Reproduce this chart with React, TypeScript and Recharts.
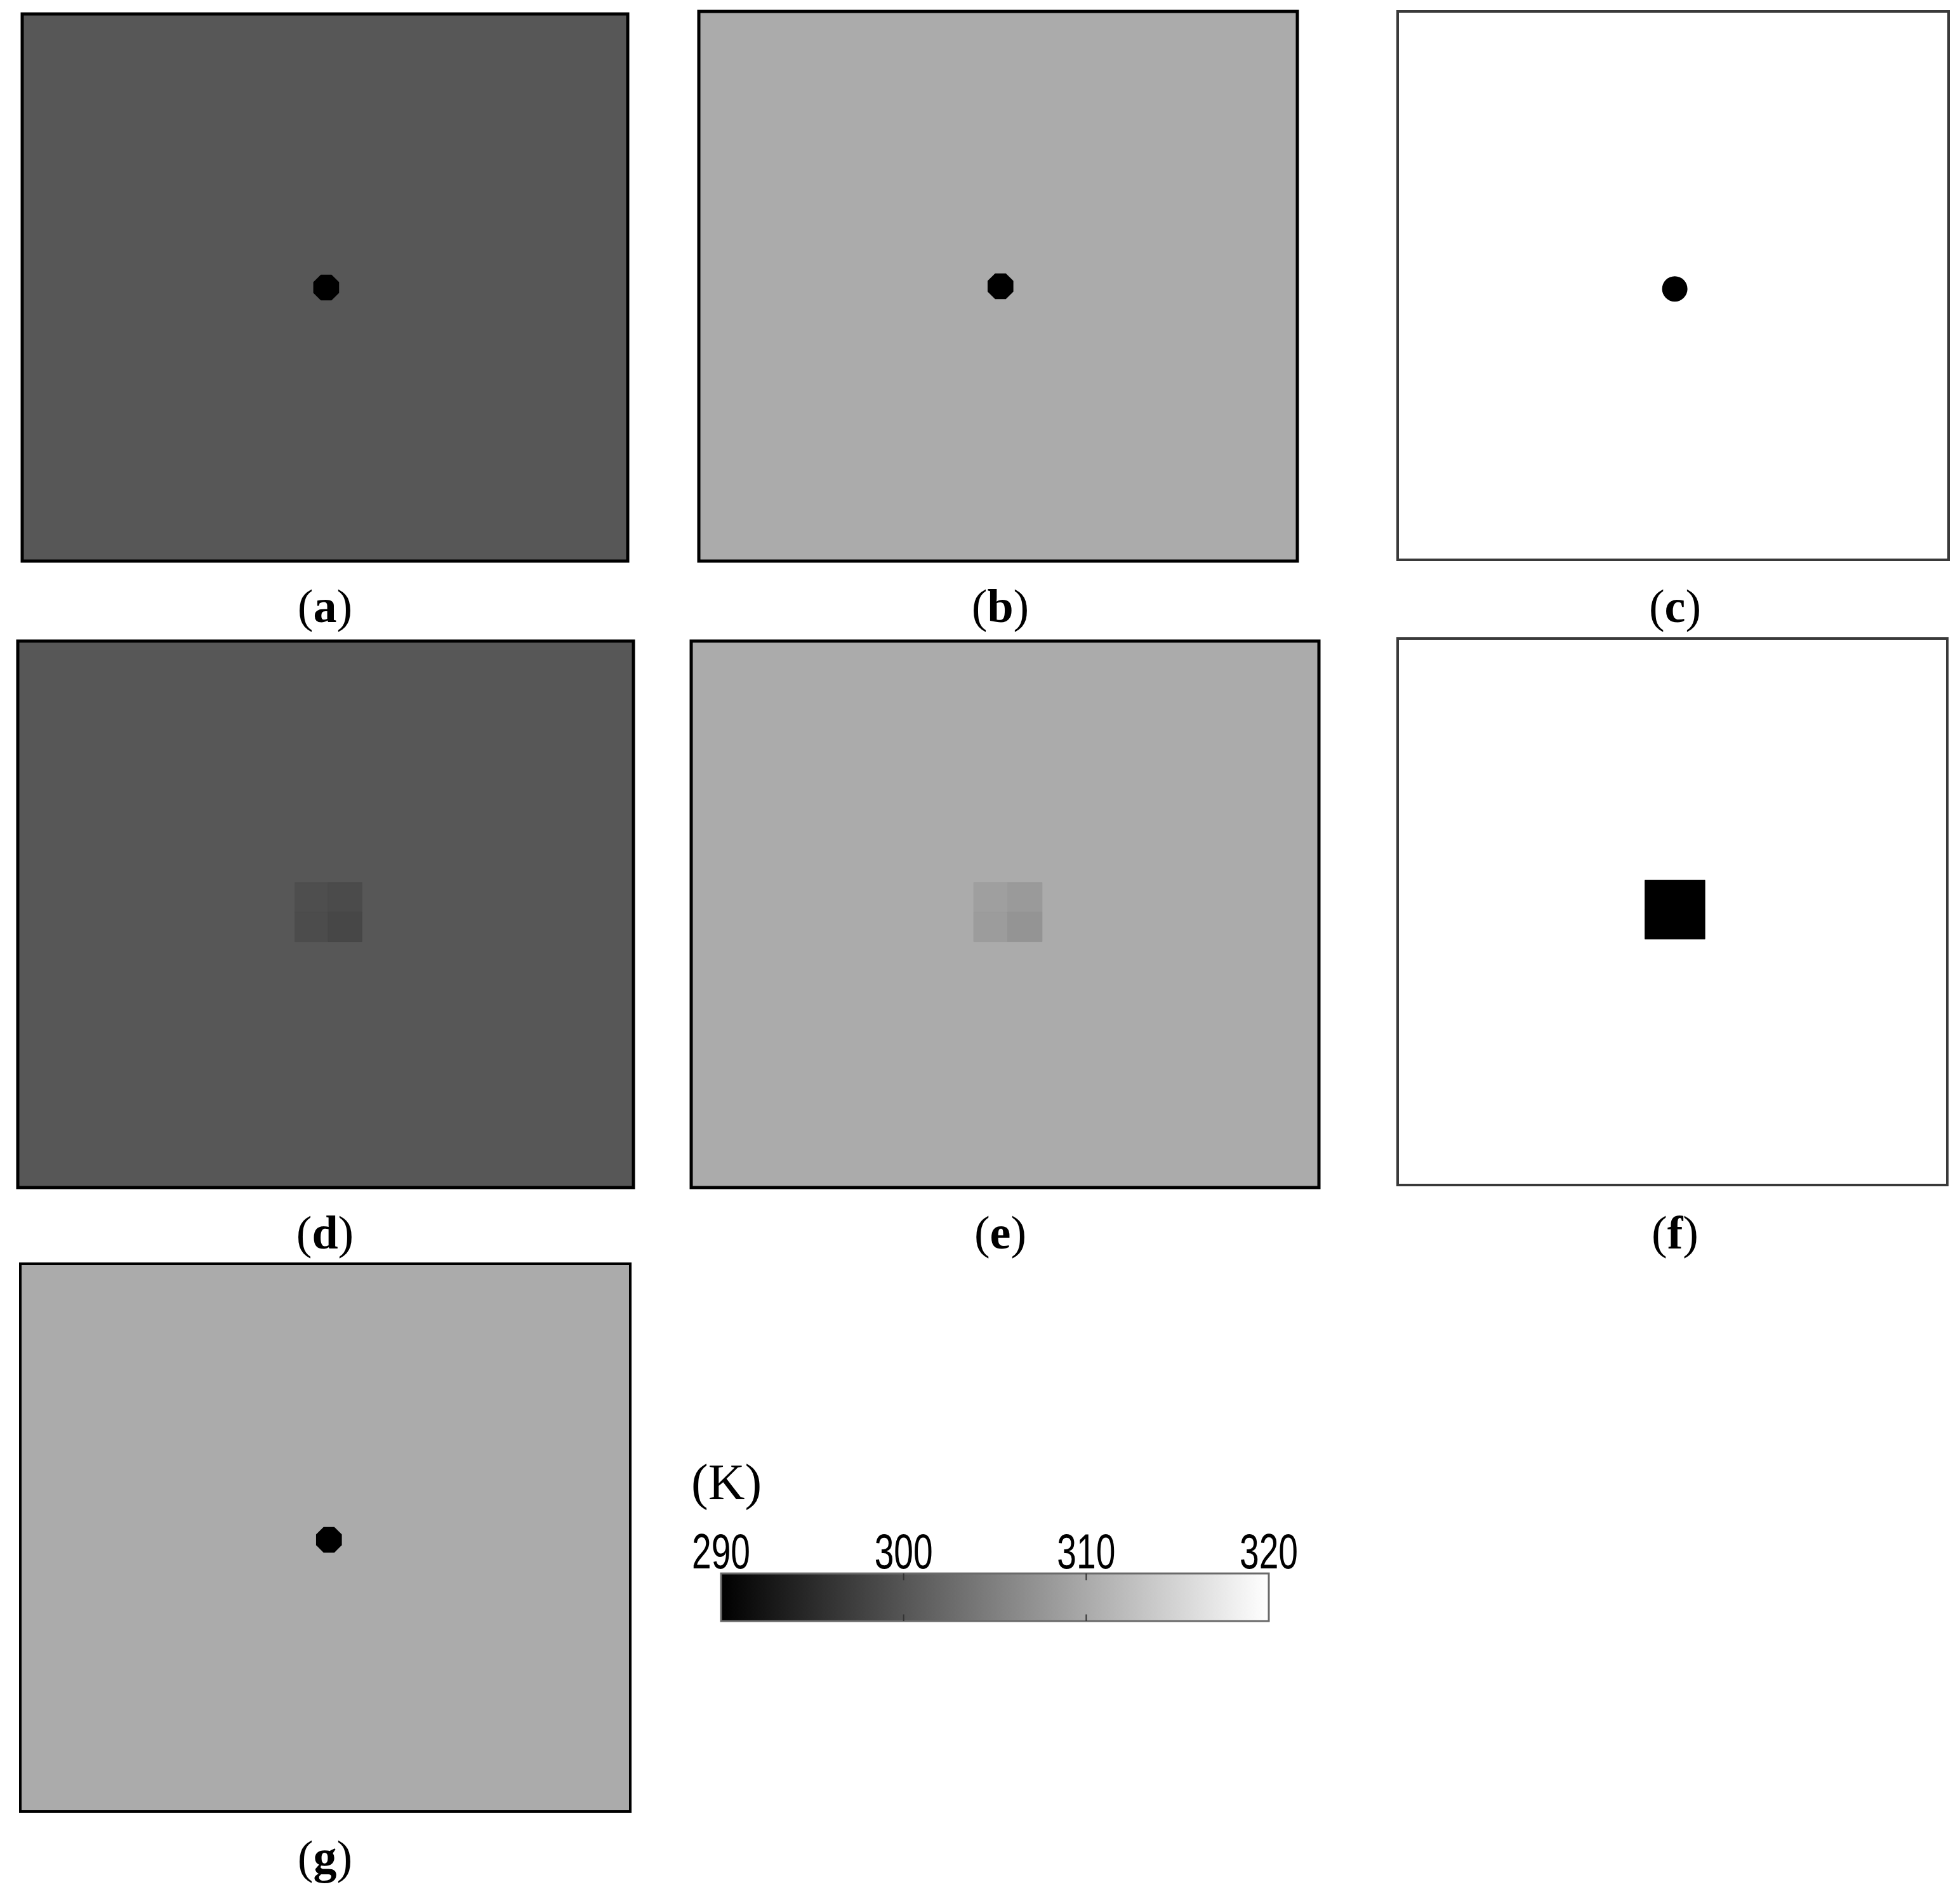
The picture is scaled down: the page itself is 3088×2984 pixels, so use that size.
import React from "react";
import {
  ComposedChart,
  XAxis,
  YAxis,
  Scatter,
  ReferenceArea,
  ReferenceLine,
} from "recharts";

// temperature fields, values in K, domain 0..100 across each plate
const panelIds = ["a", "b", "c", "d", "e", "f", "g"];
const backgroundTemps = [300.2, 310.1, 320, 300.2, 310.1, 320, 310.1];
const defectKinds = ["hole", "hole", "hole", "square", "square", "square", "hole"];
const holeTemp = 290;
const holeX = [50.2, 50.4, 50.3, 0, 0, 0, 50.6];
const holeY = [50.0, 50.0, 50.6, 0, 0, 0, 50.4];

// square defect: 2x2 cells, [top-left, top-right, bottom-left, bottom-right]
const squareCellTemps: Record<string, number[]> = {
  d: [299.2, 298.8, 298.9, 298.4],
  e: [308.7, 308.1, 308.4, 307.4],
  f: [290, 290, 290, 290],
};
const squareX = [45, 50.4, 55.9];
const squareY = [44.2, 49.6, 55.0];

// colour bar
const scaleMin = 290;
const scaleMax = 320;
const scaleTicks = [290, 300, 310, 320];
const scaleInnerTicks = [300, 310];
const unitLabel = "(K)";

function tempToGrey(t: number) {
  const v = Math.round(Math.max(0, Math.min(1, (t - scaleMin) / (scaleMax - scaleMin))) * 255);
  const h = v.toString(16).padStart(2, "0");
  return `#${h}${h}${h}`;
}

// frame of each plate on the page (left, top, width, height)
const frames: Record<string, number[]> = {
  a: [35, 22, 954, 862],
  b: [1101, 18, 943, 866],
  c: [2202, 18, 868, 864],
  d: [28, 1010, 970, 861],
  e: [1089, 1010, 989, 861],
  f: [2202, 1006, 866, 861],
  g: [32, 1991, 961, 863],
};
const borders: Record<string, [string, number]> = {
  a: ["#000", 5],
  b: ["#000", 5],
  c: ["#3a3a3a", 4],
  d: ["#000", 5],
  e: ["#000", 5],
  f: ["#3a3a3a", 4],
  g: ["#000", 4],
};

const M = 6;

function Octagon(props: any) {
  const { cx, cy, fill } = props;
  const r = 22;
  const pts: string[] = [];
  for (let i = 0; i < 8; i++) {
    const a = (Math.PI / 8) * (2 * i + 1);
    pts.push(`${cx + r * Math.cos(a)},${cy + r * Math.sin(a)}`);
  }
  return <polygon points={pts.join(" ")} fill={fill} />;
}

function RoundHole(props: any) {
  const { cx, cy, fill } = props;
  return <circle cx={cx} cy={cy} r={20} fill={fill} />;
}

function Plate({ index }: { index: number }) {
  const id = panelIds[index];
  const [left, top, w, h] = frames[id];
  const [stroke, sw] = borders[id];
  const cells = squareCellTemps[id];
  // the plate corners give the axes something to read
  const corners = [
    { x: 0, y: 0 },
    { x: 100, y: 100 },
  ];
  return (
    <div style={{ position: "absolute", left: left - M, top: top - M }}>
      <ComposedChart
        width={w + 2 * M}
        height={h + 2 * M}
        data={corners}
        margin={{ top: M, right: M, bottom: M, left: M }}
      >
        <XAxis type="number" dataKey="x" domain={[0, 100]} hide />
        <YAxis type="number" dataKey="y" domain={[0, 100]} reversed hide />
        <ReferenceArea
          x1={0}
          x2={100}
          y1={0}
          y2={100}
          fill={tempToGrey(backgroundTemps[index])}
          fillOpacity={1}
          stroke={stroke}
          strokeWidth={sw}
        />
        {defectKinds[index] === "square" &&
          cells.map((t, i) => (
            <ReferenceArea
              key={i}
              x1={squareX[i % 2]}
              x2={squareX[(i % 2) + 1]}
              y1={squareY[Math.floor(i / 2)]}
              y2={squareY[Math.floor(i / 2) + 1]}
              fill={tempToGrey(t)}
              fillOpacity={1}
              stroke={tempToGrey(t)}
              strokeWidth={1}
            />
          ))}
        {defectKinds[index] === "hole" && (
          <Scatter
            data={[{ x: holeX[index], y: holeY[index] }]}
            fill={tempToGrey(holeTemp)}
            shape={id === "c" ? RoundHole : Octagon}
            isAnimationActive={false}
          />
        )}
      </ComposedChart>
    </div>
  );
}

const labelCentres: Record<string, number[]> = {
  a: [512, 955],
  b: [1576, 955],
  c: [2639, 955],
  d: [512, 1942],
  e: [1576, 1942],
  f: [2639, 1942],
  g: [512, 2926],
};

function PanelLabel({ id }: { id: string }) {
  const [cx, cy] = labelCentres[id];
  return (
    <div
      style={{
        position: "absolute",
        left: cx - 100,
        top: cy - 40,
        width: 200,
        height: 80,
        lineHeight: "80px",
        textAlign: "center",
        fontFamily: "'Liberation Serif', serif",
        fontSize: 74,
        color: "#000",
      }}
    >
      (<b>{id}</b>)
    </div>
  );
}

function ScaleTick(props: any) {
  const { x, y, payload } = props;
  return (
    <text
      x={x}
      y={y}
      textAnchor="middle"
      fontFamily="'Liberation Sans Narrow', 'Liberation Sans', sans-serif"
      fontSize={78}
      textLength={92}
      lengthAdjust="spacingAndGlyphs"
      fill="#000"
    >
      {payload.value}
    </text>
  );
}

function ColourBar() {
  const padX = 110;
  const axisH = 110;
  const barW = 863;
  const barH = 75;
  const rows = scaleTicks.map((t) => ({ x: t, y: 0.5 }));
  return (
    <div style={{ position: "absolute", left: 1136 - padX, top: 2479 - axisH }}>
      <ComposedChart
        width={barW + 2 * padX}
        height={axisH + barH + 4}
        data={rows}
        margin={{ top: 0, right: padX, bottom: 4, left: padX }}
      >
        <defs>
          <linearGradient id="tempGrad" x1="0" y1="0" x2="1" y2="0">
            <stop offset="0%" stopColor={tempToGrey(scaleMin)} />
            <stop offset="100%" stopColor={tempToGrey(scaleMax)} />
          </linearGradient>
        </defs>
        <XAxis
          type="number"
          dataKey="x"
          orientation="top"
          domain={[scaleMin, scaleMax]}
          ticks={scaleTicks}
          height={axisH}
          axisLine={false}
          tickLine={false}
          tick={<ScaleTick />}
          interval={0}
        />
        <YAxis type="number" dataKey="y" domain={[0, 1]} hide />
        <ReferenceArea
          x1={scaleMin}
          x2={scaleMax}
          y1={0}
          y2={1}
          fill="url(#tempGrad)"
          fillOpacity={1}
          stroke="#6a6a6a"
          strokeWidth={3}
        />
        {scaleInnerTicks.map((t) => (
          <ReferenceLine
            key={`t${t}`}
            segment={[
              { x: t, y: 1 },
              { x: t, y: 0.86 },
            ]}
            stroke="#333"
            strokeWidth={2}
          />
        ))}
        {scaleInnerTicks.map((t) => (
          <ReferenceLine
            key={`b${t}`}
            segment={[
              { x: t, y: 0 },
              { x: t, y: 0.14 },
            ]}
            stroke="#333"
            strokeWidth={2}
          />
        ))}
      </ComposedChart>
    </div>
  );
}

export default function App() {
  return (
    <div
      style={{
        position: "absolute",
        left: 0,
        top: 0,
        width: 3088,
        height: 2984,
        background: "#fff",
        overflow: "hidden",
      }}
    >
      {panelIds.map((id, i) => (
        <Plate key={id} index={i} />
      ))}
      {panelIds.map((id) => (
        <PanelLabel key={id} id={id} />
      ))}
      <div
        style={{
          position: "absolute",
          left: 1089,
          top: 2290,
          fontFamily: "'Liberation Serif', serif",
          fontSize: 80,
          lineHeight: "90px",
          color: "#000",
        }}
      >
        {unitLabel}
      </div>
      <ColourBar />
    </div>
  );
}
